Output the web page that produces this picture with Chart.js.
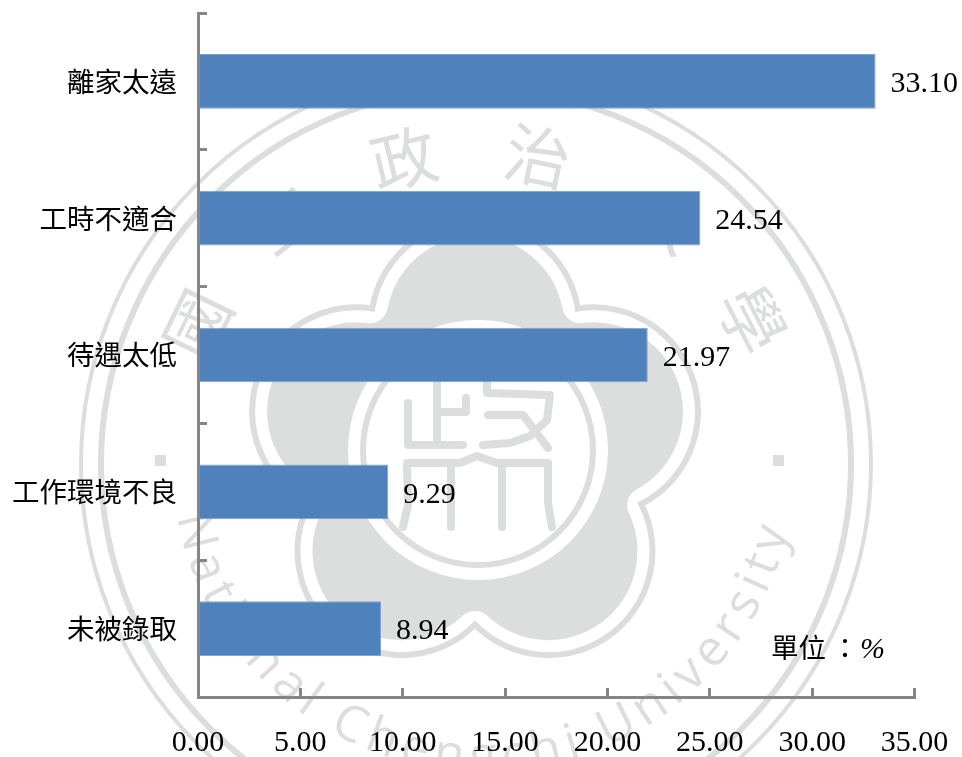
<!DOCTYPE html>
<html>
<head>
<meta charset="utf-8">
<title>未就業原因</title>
<script src="https://cdn.jsdelivr.net/npm/chart.js@4"></script>
<style>
    html, body { margin: 0; padding: 0; background: #fff; overflow: hidden; }
    canvas { display: block; }
</style>
</head>
<body>
<canvas id="reasonsChart" width="962" height="757"></canvas>
<script>
// Datos del gráfico
const categories = ['離家太遠', '工時不適合', '待遇太低', '工作環境不良', '未被錄取'];
const percentages = [33.10, 24.54, 21.97, 9.29, 8.94];
const unitLabel = '單位';
const unitColon = '：';
const unitSymbol = '%';

const sealChars = ['國', '立', '政', '治', '大', '學'];
const sealAngles = [-64, -38.5, -13.5, 11.5, 38.5, 63];
const sealEnglish = 'National Chengchi University';

const axisColor = '#868686';
const sealColor = '#dcdddd';
const cjkFont = '"Noto Sans CJK TC"';
const serifFont = '"Liberation Serif"';

// Contorno de los cinco pétalos de la flor del sello
function flowerPath(ctx, cx, cy, dist, r) {
    const step = Math.PI / 5;
    const half = dist * Math.sin(step);
    const notch = dist * Math.cos(step) + Math.sqrt(r * r - half * half);
    const sweep = Math.atan2(notch * Math.sin(step), notch * Math.cos(step) - dist);
    ctx.beginPath();
    for (let i = 0; i < 5; i++) {
        const a = -Math.PI / 2 + i * 2 * step;
        ctx.arc(cx + dist * Math.cos(a), cy + dist * Math.sin(a), r, a - sweep, a + sweep);
    }
    ctx.closePath();
}

function strokeLines(ctx, lines) {
    lines.forEach(line => {
        ctx.beginPath();
        line.forEach((p, i) => i ? ctx.lineTo(p[0], p[1]) : ctx.moveTo(p[0], p[1]));
        ctx.stroke();
    });
}

// Sello de fondo, se dibuja antes que las barras
const sealPlugin = {
    id: 'seal',
    beforeDraw(chart) {
        const ctx = chart.ctx;
        const cx = 476, cy = 460;
        ctx.save();
        ctx.fillStyle = '#fff';
        ctx.fillRect(0, 0, chart.width, chart.height);

        // anillos exteriores
        ctx.strokeStyle = sealColor;
        ctx.lineWidth = 4;
        ctx.beginPath(); ctx.arc(cx, 464, 395, 0, Math.PI * 2); ctx.stroke();
        ctx.lineWidth = 6;
        ctx.beginPath(); ctx.arc(cx, 464, 375, 0, Math.PI * 2); ctx.stroke();

        // flor
        const fx = 475, fy = 450;
        ctx.fillStyle = sealColor;
        flowerPath(ctx, fx, fy, 125, 107);
        ctx.fill();
        ctx.strokeStyle = '#fff';
        ctx.lineWidth = 36;
        ctx.lineJoin = 'round';
        ctx.stroke();
        ctx.strokeStyle = sealColor;
        ctx.lineWidth = 6;
        ctx.lineJoin = 'miter';
        flowerPath(ctx, fx, fy, 125, 104);
        ctx.stroke();

        // círculo central
        ctx.fillStyle = '#fff';
        ctx.beginPath(); ctx.arc(478, fy, 130, 0, Math.PI * 2); ctx.fill();
        ctx.lineWidth = 6;
        ctx.beginPath(); ctx.arc(478, fy, 115, 0, Math.PI * 2); ctx.stroke();

        // carácter estilizado del centro
        ctx.lineWidth = 8;
        ctx.lineCap = 'round';
        ctx.lineJoin = 'round';
        strokeLines(ctx, [
            [[408, 403], [408, 445], [463, 445]],
            [[437, 375], [437, 445]],
            [[437, 412], [466, 412], [466, 398]],
            [[487, 375], [487, 393], [550, 395], [547, 420], [530, 436], [510, 443], [483, 445]],
            [[488, 415], [523, 415], [548, 448]],
            [[403, 527], [408, 505], [407, 463], [460, 463], [477, 456], [497, 463], [548, 463], [548, 503], [552, 527]],
            [[451, 463], [451, 527]],
            [[502, 463], [502, 527]]
        ]);

        // puntos laterales
        ctx.fillStyle = sealColor;
        ctx.fillRect(155, 455, 11, 11);
        ctx.fillRect(773, 455, 11, 11);

        // nombre en chino
        ctx.font = '66px ' + cjkFont;
        ctx.textAlign = 'center';
        ctx.textBaseline = 'middle';
        sealChars.forEach((ch, i) => {
            const a = sealAngles[i] * Math.PI / 180;
            ctx.save();
            ctx.translate(cx + 310 * Math.sin(a), cy - 310 * Math.cos(a));
            ctx.rotate(a);
            ctx.fillText(ch, 0, 0);
            ctx.restore();
        });

        // nombre en inglés, en arco por la parte inferior
        ctx.font = '50px "Open Sans"';
        ctx.textAlign = 'left';
        ctx.textBaseline = 'alphabetic';
        const R = 312;
        const arcX = 484;
        const startAngle = -79.5, endAngle = 77;
        const chars = sealEnglish.split('');
        const widths = chars.map(c => ctx.measureText(c).width);
        const total = widths.reduce((s, w) => s + w, 0);
        const arcLen = (endAngle - startAngle) * Math.PI / 180 * R;
        const gap = (arcLen - total) / (chars.length - 1);
        let pos = 0;
        chars.forEach((ch, i) => {
            const a = (startAngle * Math.PI / 180) + (pos + widths[i] / 2) / R;
            ctx.save();
            ctx.translate(arcX + R * Math.sin(a), cy + R * Math.cos(a));
            ctx.rotate(-a);
            ctx.fillText(ch, -widths[i] / 2, 0);
            ctx.restore();
            pos += widths[i] + gap;
        });
        ctx.restore();
    }
};

// Etiquetas de valor y unidad
const labelsPlugin = {
    id: 'valueLabels',
    afterDatasetsDraw(chart) {
        const ctx = chart.ctx;
        const meta = chart.getDatasetMeta(0);
        ctx.save();
        ctx.fillStyle = '#000';
        ctx.font = '30px ' + serifFont;
        ctx.textAlign = 'left';
        ctx.textBaseline = 'middle';
        meta.data.forEach((bar, i) => {
            ctx.fillText(percentages[i].toFixed(2), bar.x + 15, bar.y + 3);
        });
        ctx.font = '27.5px ' + cjkFont;
        ctx.fillText(unitLabel, 771, 648);
        ctx.textAlign = 'center';
        ctx.fillText(unitColon, 845, 648);
        ctx.textAlign = 'left';
        ctx.font = 'italic 30px ' + serifFont;
        ctx.fillText(unitSymbol, 860, 650);
        ctx.restore();
    }
};

// Quita los márgenes que el eje añade por sus etiquetas
function fitAxis(scale, size) {
    if (scale.isHorizontal()) scale.height = size; else scale.width = size;
    scale.paddingTop = scale.paddingBottom = scale.paddingLeft = scale.paddingRight = 0;
}

new Chart(document.getElementById('reasonsChart'), {
    type: 'bar',
    data: {
        labels: categories,
        datasets: [{
            data: percentages,
            backgroundColor: '#4f81bd',
            borderColor: '#7ea3cf',
            borderWidth: 1,
            barPercentage: 0.4,
            categoryPercentage: 1
        }]
    },
    options: {
        indexAxis: 'y',
        responsive: false,
        animation: false,
        layout: { padding: { top: 13, right: 47.5, left: 0, bottom: 0 } },
        plugins: { legend: { display: false }, tooltip: { enabled: false } },
        scales: {
            x: {
                min: 0,
                max: 35,
                afterFit(scale) { fitAxis(scale, 60); },
                border: { color: axisColor, width: 3, z: 1 },
                grid: { drawOnChartArea: false, tickLength: -9, tickWidth: 3, tickColor: axisColor },
                ticks: {
                    stepSize: 5,
                    maxRotation: 0,
                    autoSkip: false,
                    padding: 37,
                    color: '#000',
                    font: { family: serifFont, size: 30 },
                    callback: value => value.toFixed(2)
                }
            },
            y: {
                afterFit(scale) { fitAxis(scale, 198); },
                border: { color: axisColor, width: 3, z: 1 },
                grid: { drawOnChartArea: false, offset: true, tickLength: -9, tickWidth: 3, tickColor: axisColor },
                ticks: {
                    padding: 30,
                    autoSkip: false,
                    color: '#000',
                    font: { family: cjkFont, size: 27.5 }
                }
            }
        }
    },
    plugins: [sealPlugin, labelsPlugin]
});
</script>
</body>
</html>
